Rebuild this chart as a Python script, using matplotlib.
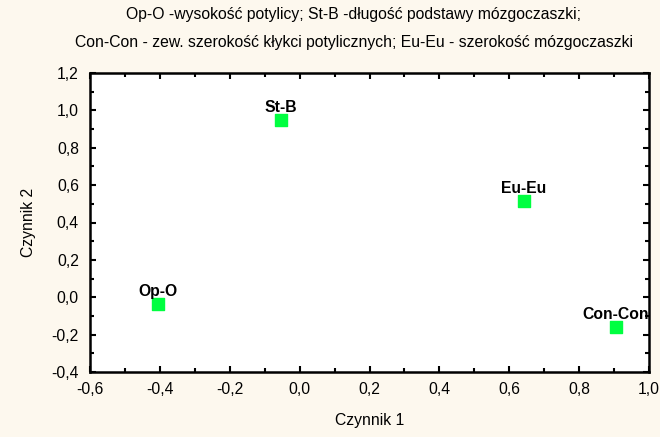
import matplotlib.pyplot as plt
from matplotlib.ticker import MultipleLocator, FuncFormatter

plt.rcParams['font.family'] = ['Liberation Sans', 'DejaVu Sans']

# dane
labels = ['Op-O', 'St-B', 'Eu-Eu', 'Con-Con']
czynnik1 = [-0.405, -0.053, 0.642, 0.905]
czynnik2 = [-0.036, 0.949, 0.515, -0.159]

tytul = ['Op-O -wysokość potylicy; St-B -długość podstawy mózgoczaszki;',
         'Con-Con - zew. szerokość kłykci potylicznych; Eu-Eu - szerokość mózgoczaszki']

fs = 11.3
bg = '#fdf8ee'
fig = plt.figure(figsize=(6.6, 4.37), dpi=100, facecolor=bg)
ax = fig.add_axes([90 / 660, 65 / 437, 559 / 660, 299 / 437])
ax.set_facecolor('white')

ax.scatter(czynnik1, czynnik2, marker='s', s=66, color='#00ff40', zorder=3)
for x, y, t in zip(czynnik1, czynnik2, labels):
    ax.annotate(t, (x, y), xytext=(0, 5.5), textcoords='offset points',
                ha='center', va='baseline', fontsize=fs, fontweight='bold',
                annotation_clip=False, clip_on=True)

ax.set_xlim(-0.6, 1.0)
ax.set_ylim(-0.4, 1.2)
ax.xaxis.set_major_locator(MultipleLocator(0.2))
ax.xaxis.set_minor_locator(MultipleLocator(0.1))
ax.yaxis.set_major_locator(MultipleLocator(0.2))
ax.yaxis.set_minor_locator(MultipleLocator(0.1))
fmt = FuncFormatter(lambda v, p: f'{v:.1f}'.replace('.', ',').replace('-0,0', '0,0'))
ax.xaxis.set_major_formatter(fmt)
ax.yaxis.set_major_formatter(fmt)
ax.tick_params(which='both', direction='in', top=True, right=True,
               width=1.5, labelsize=fs)
ax.tick_params(axis='x', which='major', pad=7)
ax.tick_params(axis='y', which='major', pad=8)
ax.tick_params(which='major', length=4)
ax.tick_params(which='minor', length=3)
for s in ax.spines.values():
    s.set_linewidth(1.8)

ax.set_xlabel('Czynnik 1', fontsize=fs, labelpad=12)
ax.set_ylabel('Czynnik 2', fontsize=fs, labelpad=11)
fig.text(354 / 660, 1 - 15 / 437, tytul[0], ha='center', va='center', fontsize=fs)
fig.text(354 / 660, 1 - 42 / 437, tytul[1], ha='center', va='center', fontsize=fs)

fig.savefig('out.png', dpi=100, facecolor=bg)
